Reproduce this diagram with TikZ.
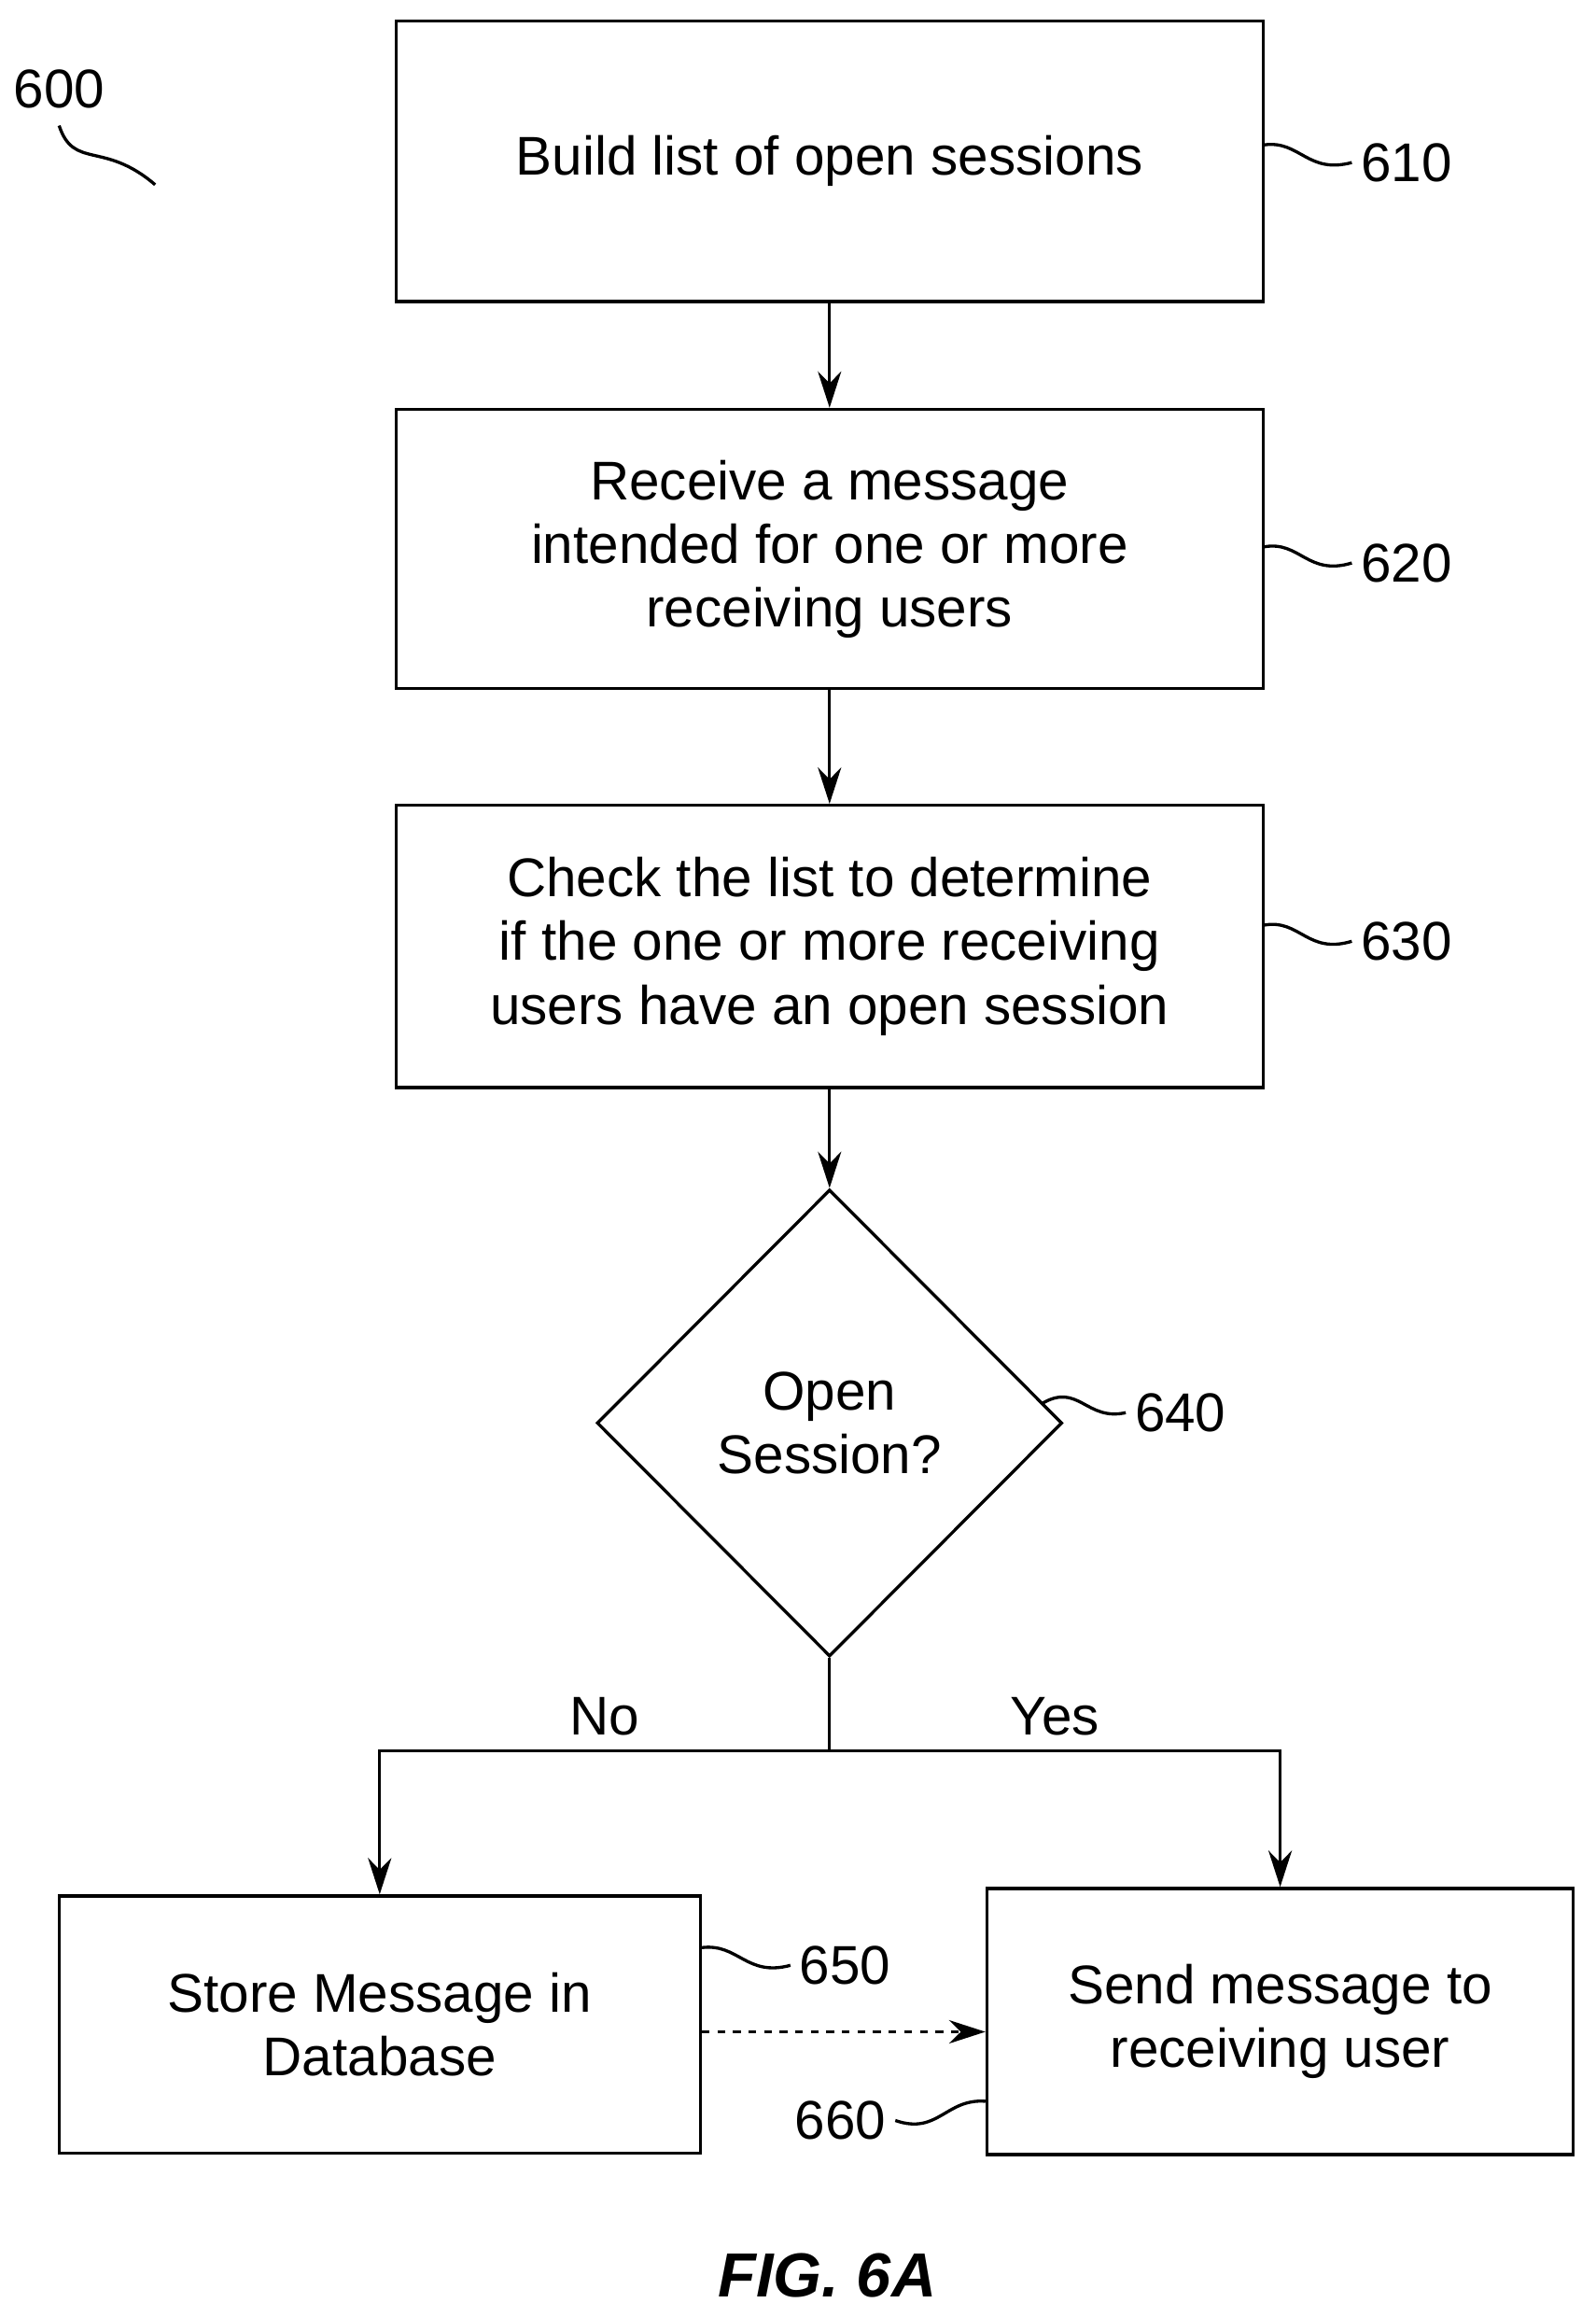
\documentclass[tikz,border=0pt]{standalone}
\usepackage{fontspec}
\setmainfont{Liberation Sans}
\usetikzlibrary{shapes.geometric,arrows.meta}
\tikzset{box/.style={draw, very thick, rectangle, align=center, inner sep=0pt},
         lead/.style={very thick},
         flow/.style={very thick, -{Stealth[length=14pt,width=9pt]}}}
\begin{document}
\begin{tikzpicture}[x=0.02cm, y=-0.02cm, font=\fontsize{21}{24.5}\selectfont]
        \useasboundingbox (0,0) rectangle (1080,1568);

        % Process boxes
        \node[box, minimum width=11.74cm, minimum height=3.8cm] (build) at (561.5,109) {Build list of open sessions};
        \node[box, minimum width=11.74cm, minimum height=3.78cm] (recv) at (561.5,371.5) {Receive a message\\intended for one or more\\receiving users};
        \node[box, minimum width=11.74cm, minimum height=3.82cm] (check) at (561.5,640.5) {Check the list to determine\\if the one or more receiving\\users have an open session};
        \node[draw, very thick, diamond, minimum width=6.3cm, minimum height=6.32cm, inner sep=0pt, align=center] (open) at (561.5,963) {Open\\Session?};
        \node[box, minimum width=8.68cm, minimum height=3.48cm] (store) at (257,1370) {Store Message in\\Database};
        \node[box, minimum width=7.94cm, minimum height=3.6cm] (send) at (866.5,1368) {Send message to\\receiving user};

        % Connectors
        \draw[flow] (build) -- (recv);
        \draw[flow] (recv) -- (check);
        \draw[flow] (check) -- (open);
        \coordinate (split) at (561.5,1185);
        \draw[very thick] (open.south) -- (split);
        \draw[flow] (split) -| node[pos=0.25, above=2pt] {No} (store.north);
        \draw[flow] (split) -| node[pos=0.25, above=2pt] {Yes} (send.north);
        \draw[flow, dashed] (store.east |- 0,1375) -- (send.west |- 0,1375);

        % Reference numerals
        \node (n600) at (40,60) {600};
        \draw[lead] (40,85) .. controls (50,115) and (70,95) .. (105,125);
        \node[anchor=west] (n610) at (915,110) {610};
        \draw[lead] (build.east |- 0,98) .. controls (880,95) and (885,118) .. (n610.west);
        \node[anchor=west] (n620) at (915,381) {620};
        \draw[lead] (recv.east |- 0,370) .. controls (880,366) and (885,390) .. (n620.west);
        \node[anchor=west] (n630) at (915,637) {630};
        \draw[lead] (check.east |- 0,626) .. controls (880,622) and (885,646) .. (n630.west);
        \node[anchor=west] (n640) at (762,956) {640};
        \draw[lead] (705,950) .. controls (730,935) and (735,962) .. (n640.west);
        \node[anchor=west] (n650) at (535,1330) {650};
        \draw[lead] (store.east |- 0,1318) .. controls (500,1315) and (505,1338) .. (n650.west);
        \node[anchor=east] (n660) at (606,1435) {660};
        \draw[lead] (n660.east) .. controls (635,1445) and (640,1420) .. (send.west |- 0,1422);

        \node[font=\fontsize{24}{28}\selectfont\bfseries\itshape] (fig) at (560,1540) {FIG. 6A};
\end{tikzpicture}
\end{document}
